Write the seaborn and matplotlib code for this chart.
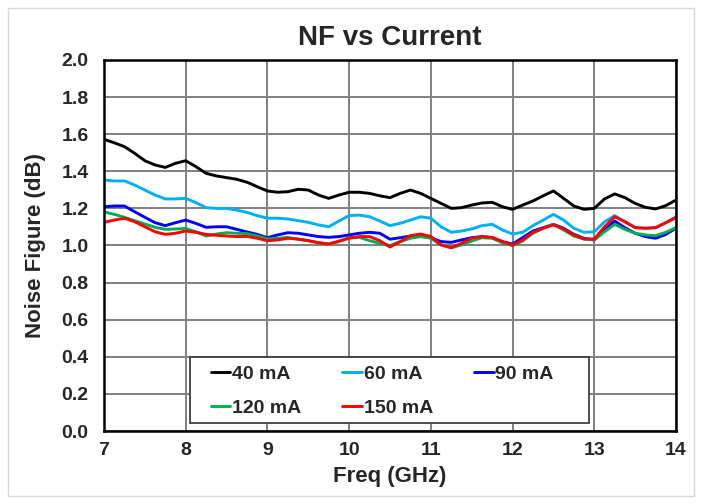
import numpy as np
import pandas as pd
import matplotlib
matplotlib.use("Agg")
import matplotlib.pyplot as plt
import seaborn as sns
from matplotlib.patches import Rectangle

freq = [7.0, 7.125, 7.25, 7.375, 7.5, 7.625, 7.75, 7.875,
        8.0, 8.125, 8.25, 8.375, 8.5, 8.625, 8.75, 8.875,
        9.0, 9.125, 9.25, 9.375, 9.5, 9.625, 9.75, 9.875,
        10.0, 10.125, 10.25, 10.375, 10.5, 10.625, 10.75, 10.875,
        11.0, 11.125, 11.25, 11.375, 11.5, 11.625, 11.75, 11.875,
        12.0, 12.125, 12.25, 12.375, 12.5, 12.625, 12.75, 12.875,
        13.0, 13.125, 13.25, 13.375, 13.5, 13.625, 13.75, 13.875,
        14.0]
nf_40 = [1.572, 1.554, 1.533, 1.497, 1.457, 1.434, 1.421, 1.443,
         1.457, 1.425, 1.389, 1.375, 1.366, 1.357, 1.341, 1.317,
         1.294, 1.287, 1.290, 1.303, 1.299, 1.272, 1.254, 1.272,
         1.287, 1.287, 1.281, 1.268, 1.258, 1.281, 1.299, 1.281,
         1.254, 1.227, 1.200, 1.204, 1.218, 1.229, 1.233, 1.209,
         1.195, 1.218, 1.240, 1.268, 1.294, 1.254, 1.213, 1.195,
         1.200, 1.251, 1.278, 1.258, 1.227, 1.206, 1.197, 1.215,
         1.245]
nf_60 = [1.353, 1.348, 1.348, 1.326, 1.299, 1.272, 1.251, 1.251,
         1.254, 1.231, 1.204, 1.200, 1.200, 1.191, 1.178, 1.161,
         1.147, 1.147, 1.143, 1.134, 1.125, 1.111, 1.101, 1.132,
         1.161, 1.164, 1.155, 1.132, 1.107, 1.120, 1.137, 1.155,
         1.147, 1.101, 1.071, 1.078, 1.089, 1.107, 1.114, 1.084,
         1.062, 1.072, 1.107, 1.137, 1.168, 1.137, 1.093, 1.071,
         1.074, 1.128, 1.161, 1.128, 1.098, 1.093, 1.096, 1.123,
         1.155]
nf_90 = [1.209, 1.213, 1.213, 1.182, 1.152, 1.123, 1.107, 1.123,
         1.137, 1.119, 1.098, 1.101, 1.101, 1.087, 1.073, 1.060,
         1.042, 1.057, 1.069, 1.066, 1.057, 1.048, 1.044, 1.048,
         1.057, 1.066, 1.071, 1.066, 1.034, 1.042, 1.051, 1.051,
         1.042, 1.021, 1.017, 1.030, 1.042, 1.048, 1.042, 1.021,
         1.008, 1.043, 1.078, 1.096, 1.114, 1.093, 1.060, 1.039,
         1.030, 1.084, 1.132, 1.096, 1.066, 1.048, 1.039, 1.060,
         1.093]
nf_120 = [1.181, 1.168, 1.152, 1.134, 1.116, 1.098, 1.087, 1.089,
          1.092, 1.074, 1.051, 1.062, 1.069, 1.066, 1.064, 1.051,
          1.035, 1.039, 1.044, 1.033, 1.026, 1.015, 1.008, 1.021,
          1.042, 1.044, 1.026, 1.012, 1.000, 1.021, 1.039, 1.048,
          1.039, 1.003, 0.988, 1.003, 1.024, 1.042, 1.039, 1.015,
          0.999, 1.025, 1.066, 1.093, 1.114, 1.084, 1.051, 1.035,
          1.030, 1.074, 1.114, 1.087, 1.066, 1.057, 1.053, 1.071,
          1.096]
nf_150 = [1.125, 1.137, 1.147, 1.128, 1.101, 1.074, 1.060, 1.066,
          1.078, 1.071, 1.060, 1.055, 1.051, 1.048, 1.049, 1.039,
          1.026, 1.030, 1.039, 1.035, 1.026, 1.015, 1.008, 1.024,
          1.039, 1.048, 1.048, 1.026, 0.992, 1.021, 1.053, 1.062,
          1.048, 1.003, 0.988, 1.012, 1.039, 1.048, 1.044, 1.021,
          1.003, 1.030, 1.071, 1.093, 1.111, 1.089, 1.057, 1.035,
          1.035, 1.101, 1.155, 1.128, 1.096, 1.093, 1.096, 1.123,
          1.150]
series_names = ["40 mA", "60 mA", "90 mA", "120 mA", "150 mA"]
colors = ["#000000", "#00B0F0", "#0000FF", "#00B050", "#FF0000"]
x_ticks = [7, 8, 9, 10, 11, 12, 13, 14]
y_ticks = [0.0, 0.2, 0.4, 0.6, 0.8, 1.0, 1.2, 1.4, 1.6, 1.8, 2.0]

frames = []
for name, vals in zip(series_names, [nf_40, nf_60, nf_90, nf_120, nf_150]):
    frames.append(pd.DataFrame({"Freq": freq, "NF": vals, "Current": name}))
df = pd.concat(frames, ignore_index=True)

sns.set_theme(style="white")
plt.rcParams["font.family"] = ["Liberation Sans", "DejaVu Sans"]
plt.rcParams["font.weight"] = "bold"

fig = plt.figure(figsize=(7.04, 5.04), dpi=100)
ax = fig.add_axes([104/704, 1 - 431/504, (676-104)/704, (431-60)/504])

sns.lineplot(data=df, x="Freq", y="NF", hue="Current", hue_order=series_names,
             palette=colors, linewidth=2.1, ax=ax, legend=True,
             solid_joinstyle="round", solid_capstyle="round")

ax.set_xlim(7, 14)
ax.set_ylim(0, 2.0)
ax.set_xticks(x_ticks)
ax.set_xticklabels([str(v) for v in x_ticks])
ax.set_yticks(y_ticks)
ax.set_yticklabels([f"{v:.1f}" for v in y_ticks])
ax.grid(True, color="#808080", linewidth=1.4)
ax.set_axisbelow(True)
for s in ax.spines.values():
    s.set_color("black")
    s.set_linewidth(1.8)
    s.set_zorder(6)
ax.tick_params(axis="both", labelsize=14, length=0)
ax.tick_params(axis="x", pad=8)
ax.tick_params(axis="y", pad=11)
for lab in ax.get_xticklabels() + ax.get_yticklabels():
    lab.set_fontweight("bold")
ax.set_xlabel("Freq (GHz)", fontsize=16, fontweight="bold", labelpad=5)
ax.set_ylabel("Noise Figure (dB)", fontsize=16, fontweight="bold", labelpad=11)
ax.set_title("NF vs Current", fontsize=20, fontweight="bold", pad=11)

# legend frame drawn separately (opaque white box)
ax.add_patch(Rectangle(((190-104)/572, (431-423)/371), (589-190)/572, (423-357)/371,
                       transform=ax.transAxes, facecolor="white", edgecolor="#404040",
                       linewidth=1.3, zorder=4.5, clip_on=False))

handles, labels = ax.get_legend_handles_labels()
order = [0, 3, 1, 4, 2]
leg = ax.legend([handles[i] for i in order], [labels[i] for i in order], ncol=3,
                loc="upper left", bbox_to_anchor=((211-104)/572, (431-365)/371),
                frameon=False, handlelength=1.0, handletextpad=0.1, borderpad=0,
                borderaxespad=0, labelspacing=0.86, columnspacing=2.1,
                prop={"weight": "bold", "size": 14})
leg.set_zorder(5)

fig.patches.append(Rectangle((8/704, 8/504), 686/704, 488/504, transform=fig.transFigure,
                             fill=False, edgecolor="#d9d9d9", linewidth=1.0))

fig.savefig("out.png", dpi=100)
